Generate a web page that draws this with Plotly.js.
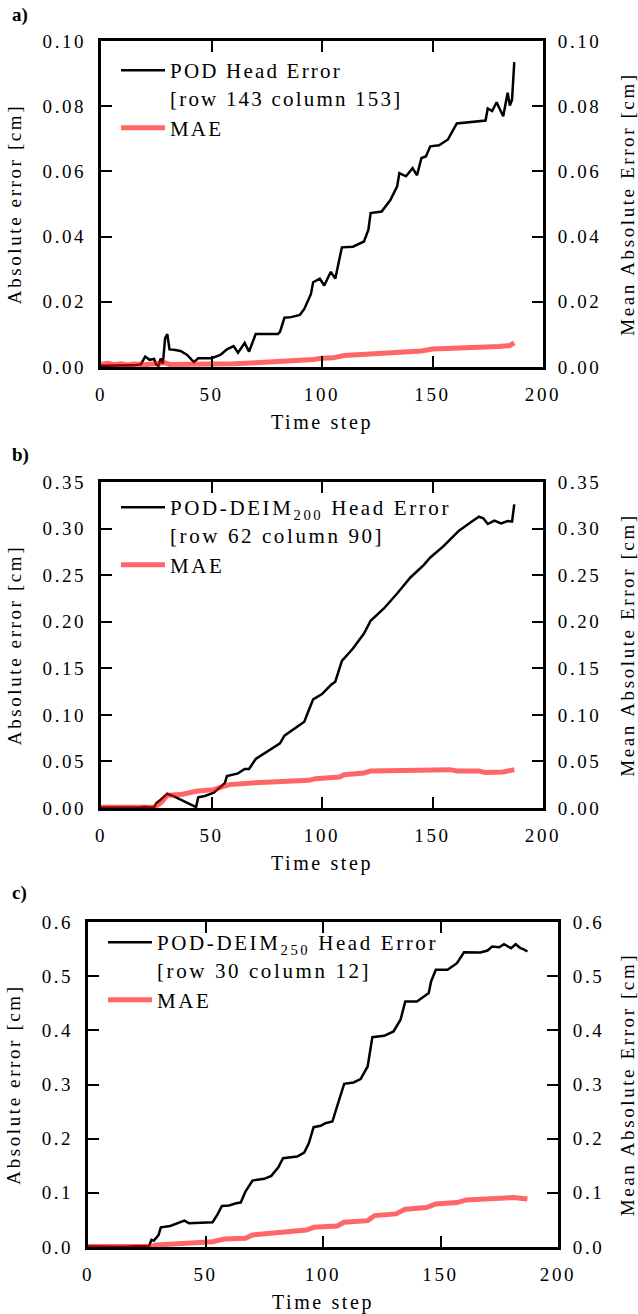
<!DOCTYPE html>
<html>
<head>
<meta charset="utf-8">
<script src="https://cdn.plot.ly/plotly-3.0.1.min.js"></script>
<style>
html,body{margin:0;padding:0;background:#fff;}
#chart{width:638px;height:1314px;}
svg text{letter-spacing:2.6px;}
svg .legendtext{letter-spacing:2.2px;}
svg .annotation-text{letter-spacing:0;}
</style>
</head>
<body>
<div id="chart"></div>
<script>
// ---------- Panel a ----------
const tA    = [0,5,10,15,18,20,22,24,25,26,27,28,29,30,31,33,36,39,42,44,50,54,57,60,62,65,67,70,80,81,83,86,90,92,95,96,99,101,104,106,109,114,119,121,122,127,131,134,135,138,141,143,145,147,149,153,157,161,174,175,177,179,182,184,185,186,187];
const podA  = [0.0004,0.0004,0.0003,0.0005,0.0008,0.0032,0.0022,0.0025,0.0007,0.0004,0.0026,0.0010,0.0088,0.0101,0.0054,0.0053,0.0049,0.0037,0.0015,0.0027,0.0027,0.0037,0.0054,0.0064,0.0044,0.0074,0.0047,0.0101,0.0101,0.0108,0.0151,0.0153,0.0160,0.0178,0.0224,0.0260,0.0271,0.0250,0.0292,0.0271,0.0367,0.0369,0.0385,0.0421,0.0472,0.0477,0.0513,0.0554,0.0595,0.0585,0.0610,0.0588,0.0641,0.0646,0.0677,0.0680,0.0698,0.0747,0.0756,0.0793,0.0785,0.0812,0.0769,0.0841,0.0802,0.0820,0.0935];
const tMaeA = [0,3,6,9,12,15,20,25,29,31,40,50,60,70,80,90,96,100,105,110,120,123,135,145,150,160,165,173,180,185,187];
const maeA  = [0.0008,0.0011,0.0007,0.0010,0.0006,0.0009,0.0007,0.0010,0.0013,0.0008,0.0008,0.0008,0.0010,0.0013,0.0016,0.0019,0.0023,0.0027,0.0028,0.0035,0.0039,0.0042,0.0046,0.0049,0.0055,0.0057,0.0060,0.0062,0.0063,0.0066,0.0074];

// ---------- Panel b ----------
const tB    = [0,10,18,20,22,24,25,27,30,33,42,43,44,47,51,54,56,57,60,62,65,67,70,76,81,83,88,92,94,96,100,104,106,109,114,119,122,128,134,140,146,149,155,159,162,167,171,173,175,178,181,184,186,187];
const podB  = [0.0005,0.0004,0.0008,0.0012,0.0006,0.0010,0.0050,0.0089,0.0153,0.0125,0.0029,0.0010,0.0114,0.0129,0.0165,0.0222,0.0265,0.0344,0.0365,0.0372,0.0419,0.0419,0.0526,0.0616,0.0695,0.0777,0.0856,0.0927,0.1050,0.1166,0.1223,0.1320,0.1356,0.1580,0.1712,0.1873,0.2010,0.2142,0.2303,0.2475,0.2608,0.2690,0.2812,0.2912,0.2977,0.3063,0.3127,0.3110,0.3049,0.3085,0.3056,0.3081,0.3074,0.3260];
const tMaeB = [0,10,20,24,27,30,37,43,51,55,58,70,82,94,97,108,110,119,122,138,158,161,171,174,182,187];
const maeB  = [0.0007,0.0006,0.0008,0.0009,0.0053,0.0136,0.0147,0.0179,0.0197,0.0226,0.0251,0.0272,0.0286,0.0297,0.0315,0.0333,0.0358,0.0376,0.0397,0.0408,0.0412,0.0397,0.0397,0.0380,0.0387,0.0412];

// ---------- Panel c ----------
const tC    = [0,5,10,15,20,25,26,27,28,30,31,35,39,41,43,53,55,57,60,63,65,67,70,75,78,81,83,89,92,94,96,99,101,104,106,109,113,116,119,121,126,130,133,135,140,145,146,148,153,157,160,167,170,172,175,177,180,182,184,185,187];
const podC  = [0.0010,0.0005,0.0010,0.0005,0.0012,0.0008,0.0020,0.0133,0.0117,0.0220,0.0363,0.0388,0.0450,0.0488,0.0438,0.0457,0.0592,0.0759,0.0765,0.0808,0.0820,0.1024,0.1227,0.1258,0.1313,0.1473,0.1640,0.1670,0.1744,0.1917,0.2212,0.2237,0.2286,0.2317,0.2594,0.3012,0.3037,0.3099,0.3333,0.3874,0.3899,0.3979,0.4195,0.4533,0.4533,0.4687,0.4903,0.5118,0.5118,0.5240,0.5442,0.5436,0.5473,0.5547,0.5535,0.5590,0.5516,0.5590,0.5516,0.5504,0.5455];
const tMaeC = [0,10,20,27,29,43,53,58,67,70,80,83,93,96,106,109,119,122,131,135,144,148,157,161,170,174,181,187];
const maeC  = [0.0010,0.0008,0.0010,0.0010,0.0037,0.0086,0.0098,0.0148,0.0160,0.0222,0.0252,0.0283,0.0314,0.0363,0.0388,0.0456,0.0487,0.0580,0.0611,0.0697,0.0728,0.0796,0.0820,0.0870,0.0888,0.0919,0.0913,0.0888];

// ---------- Labels ----------
const panelLabels = ['a)','b)','c)'];
const podNames = [
  'POD Head Error<br>[row 143 column 153]',
  'POD-DEIM<sub>200</sub> Head Error<br>[row 62 column 90]',
  'POD-DEIM<sub>250</sub> Head Error<br>[row 30 column 12]'
];
const maeName = 'MAE';
const xTitle = 'Time step';
const yLeftTitle = 'Absolute error [cm]';
const yRightTitle = 'Mean Absolute Error [cm]';
const yRanges = [[0,0.1],[0,0.35],[0,0.6]];
const yDticks = [0.02,0.05,0.1];
const yFormats = ['.2f','.2f','.1f'];

const W = 638, H = 1314;
const FONT = 'Liberation Serif, Times New Roman, serif';
const RED = 'rgba(255,0,0,0.6)';

// panel geometry in pixels (left, right, top, bottom)
const boxes = [[101,543,41,367],[101,543,482,808],[88,558,922,1247]];
const legendPos = [[116,50],[116,487],[103,922]];
const labelY = [15,455,893];

const tSets = [[tA,podA,tMaeA,maeA],[tB,podB,tMaeB,maeB],[tC,podC,tMaeC,maeC]];
const traces = [];
const layout = {
  width: W, height: H,
  margin: {l:0,r:0,t:0,b:0},
  paper_bgcolor:'#fff', plot_bgcolor:'#fff',
  font: {family: FONT, size: 19, color:'#000'},
  showlegend: true,
  annotations: []
};

function axCommon(){
  return {
    showline:true, linecolor:'#000', linewidth:3,
    ticks:'inside', ticklen:11, tickwidth:2, tickcolor:'#000',
    showgrid:false, zeroline:false,
    tickfont:{family:FONT,size:19,color:'#000'},
    ticklabelstandoff: 8,
    fixedrange:true
  };
}

for (let i=0;i<3;i++){
  const [l,r,t,b] = boxes[i];
  const xd = [l/W, r/W];
  const yd = [1-b/H, 1-t/H];
  const n = i+1;
  const xk = n===1?'xaxis':'xaxis'+n;
  const yk = n===1?'yaxis':'yaxis'+n;
  const yrk = 'yaxis'+(n+3);
  const xid = n===1?'x':'x'+n;
  const yid = n===1?'y':'y'+n;
  const yrid = 'y'+(n+3);
  const lg = n===1?'legend':'legend'+n;

  layout[xk] = Object.assign(axCommon(), {
    domain: xd, anchor: yid, range:[0,200], dtick:50, tick0:0,
    mirror:'ticks',
    title:{text:xTitle, font:{family:FONT,size:20,color:'#000'}, standoff:12}
  });
  layout[yk] = Object.assign(axCommon(), {
    domain: yd, anchor: xid, range: yRanges[i], dtick: yDticks[i], tick0:0,
    tickformat: yFormats[i],
    title:{text:yLeftTitle, font:{family:FONT,size:19,color:'#000'}, standoff:16}
  });
  layout[yrk] = Object.assign(axCommon(), {
    overlaying: yid, side:'right', anchor: xid, range: yRanges[i], dtick: yDticks[i], tick0:0,
    tickformat: yFormats[i],
    title:{text:yRightTitle, font:{family:FONT,size:19,color:'#000'}, standoff:24}
  });
  layout[lg] = {
    x: legendPos[i][0]/W, y: 1-legendPos[i][1]/H, xanchor:'left', yanchor:'top',
    bgcolor:'rgba(0,0,0,0)', borderwidth:0,
    font:{family:FONT,size:21,color:'#000'},
    valign:'top', itemwidth:44, tracegroupgap:0
  };
  layout.annotations.push({
    xref:'paper', yref:'paper', x: 10/W, y: 1-labelY[i]/H, xanchor:'left', yanchor:'middle',
    text:'<b>'+panelLabels[i]+'</b>', showarrow:false,
    font:{family:FONT,size:19,color:'#000'}
  });

  const [tt,pod,tm,mae] = tSets[i];
  traces.push({
    x: tt, y: pod, xaxis: xid, yaxis: yid, type:'scatter', mode:'lines',
    line:{color:'#000', width:2.5}, name: podNames[i], legend: lg
  });
  traces.push({
    x: tm, y: mae, xaxis: xid, yaxis: yrid, type:'scatter', mode:'lines',
    line:{color:RED, width:5}, name: maeName, legend: lg
  });
}

Plotly.newPlot('chart', traces, layout, {staticPlot:true, displayModeBar:false});
</script>
</body>
</html>
